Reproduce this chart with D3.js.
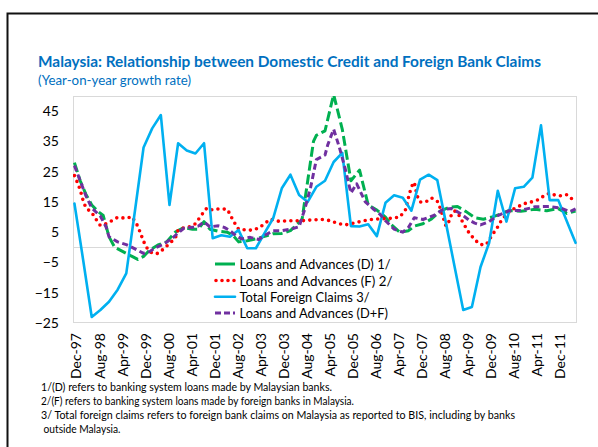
<!DOCTYPE html>
<html><head><meta charset="utf-8">
<script src="https://cdn.jsdelivr.net/npm/d3@7"></script>
<style>
body{margin:0;background:#fff}
svg{display:block}
text{font-family:Lato,"Open Sans",sans-serif}
</style>
</head><body>
<svg id="chart" width="598" height="447"></svg>
<script>
// ---------- data ----------
const monthNames = ["Jan","Feb","Mar","Apr","May","Jun","Jul","Aug","Sep","Oct","Nov","Dec"];
const firstCategory = "Dec-97";
const lastCategory = "Jun-12";
const tickLabels = ["Dec-97","Aug-98","Apr-99","Dec-99","Aug-00","Apr-01","Dec-01","Aug-02","Apr-03","Dec-03","Aug-04","Apr-05","Dec-05","Aug-06","Apr-07","Dec-07","Aug-08","Apr-09","Dec-09","Aug-10","Apr-11","Dec-11"];
const yTicks = [-25,-15,-5,5,15,25,35,45];
const yDomain = [-25,50];

const seriesNames = ["Loans and Advances (D)  1/","Loans and Advances (F)  2/","Total Foreign Claims  3/","Loans and Advances (D+F)"];

// Loans and Advances (D)
const loansDDates = ["Dec-97","Feb-98","Apr-98","Jun-98","Aug-98","Oct-98","Dec-98","Feb-99","May-99","Aug-99","Oct-99","Dec-99","Feb-00","May-00","Aug-00","Nov-00","Feb-01","May-01","Jul-01","Sep-01","Nov-01","Feb-02","May-02","Jul-02","Sep-02","Dec-02","Mar-03","Jul-03","Sep-03","Dec-03","Mar-04","Jun-04","Jul-04","Sep-04","Nov-04","Dec-04","Mar-05","Jun-05","Sep-05","Dec-05","Mar-06","Jun-06","Sep-06","Dec-06","Feb-07","May-07","Aug-07","Oct-07","Jan-08","Apr-08","Jul-08","Oct-08","Jan-09","Apr-09","Jul-09","Oct-09","Jan-10","Apr-10","Jul-10","Nov-10","Apr-11","Aug-11","Dec-11","Mar-12","Jun-12"];
const loansDValues = [28,22,17.5,14,12,10.5,3.5,0,-1.5,-3,-4,-3,-1,0.8,1.8,5,6.5,6,6,8.5,6,5.3,5,4,1.8,2.2,2.8,3.9,4.5,4.6,5.5,8.3,9,22,35,37,38.5,50.5,39,22,25.5,14,12.3,10,7.5,5,5.5,7,7.8,9.4,12,13.2,13.5,11.8,9.8,9.3,10,11,12.2,11.9,12.6,12.1,12.8,11.2,12];

// Loans and Advances (F)
const loansFDates = ["Dec-97","Jan-98","Feb-98","Mar-98","Apr-98","Jun-98","Aug-98","Sep-98","Nov-98","Jan-99","Mar-99","Jun-99","Aug-99","Oct-99","Nov-99","Dec-99","Jan-00","Mar-00","May-00","Jul-00","Sep-00","Nov-00","Dec-00","Feb-01","Apr-01","Jun-01","Aug-01","Oct-01","Dec-01","Feb-02","May-02","Jun-02","Jul-02","Sep-02","Dec-02","Feb-03","Apr-03","Jun-03","Aug-03","Nov-03","Mar-04","Jul-04","Nov-04","Feb-05","May-05","Jul-05","Oct-05","Jan-06","Apr-06","Jul-06","Oct-06","Feb-07","May-07","Jul-07","Aug-07","Sep-07","Oct-07","Nov-07","Dec-07","Feb-08","Apr-08","Jun-08","Jul-08","Aug-08","Sep-08","Oct-08","Nov-08","Dec-08","Jan-09","Mar-09","May-09","Jul-09","Sep-09","Nov-09","Jan-10","Mar-10","Apr-10","Jun-10","Aug-10","Oct-10","Dec-10","Feb-11","May-11","Jul-11","Sep-11","Nov-11","Jan-12","Mar-12","May-12","Jun-12"];
const loansFValues = [23.7,21.5,19,15.5,13,11.5,8.5,7.2,7.8,8.8,9.9,9.6,10.1,7,4.5,2,0,-2,-2,-0.5,1.3,3,5.7,6.5,6.8,7.8,10.5,13,12.3,12.7,12.6,11,9,6,5.7,5.7,6.4,7.8,9.3,8.6,8.8,8.8,9.1,9.2,8.8,8,7.4,8,8.7,9.2,9.4,9.6,10,12.5,16.5,20,21.5,17,15,15,16.3,15.2,13,10,7,8.5,11,12,11.5,8,4.8,2.5,0.9,0.9,4,6.8,8.5,11,12.5,13.4,14.4,14.8,15.7,17,17.9,17.2,17,17.4,15.8,15.5];

// Total Foreign Claims (quarterly)
const claimsDates = ["Dec-97","Mar-98","Jun-98","Sep-98","Dec-98","Mar-99","Jun-99","Sep-99","Dec-99","Mar-00","Jun-00","Sep-00","Dec-00","Mar-01","Jun-01","Sep-01","Dec-01","Mar-02","Jun-02","Sep-02","Dec-02","Mar-03","Jun-03","Sep-03","Dec-03","Mar-04","Jun-04","Sep-04","Dec-04","Mar-05","Jun-05","Sep-05","Dec-05","Mar-06","Jun-06","Sep-06","Dec-06","Mar-07","Jun-07","Sep-07","Dec-07","Mar-08","Jun-08","Sep-08","Dec-08","Mar-09","Jun-09","Sep-09","Dec-09","Mar-10","Jun-10","Sep-10","Dec-10","Mar-11","Jun-11","Sep-11","Dec-11","Mar-12","Jun-12"];
const claimsValues = [14.5,-4,-23,-20.7,-18,-14,-8.6,12,33,39.3,43.7,14,34.4,32,31,34.4,3,4,3.5,5.7,-0.3,-0.3,4.7,9.6,19.5,24,17.3,15,20,22,28.2,31.2,7,6.9,7.6,3.7,14.7,17.2,16.4,12.1,22.4,24,22.2,8,-6.4,-20.7,-19.7,-6.5,1.5,18.7,8.5,19.5,20,23,40.3,15.6,15.6,8.5,1.5];

// Loans and Advances (D+F)
const loansDFDates = ["Dec-97","Feb-98","Apr-98","Jun-98","Sep-98","Nov-98","Dec-98","Mar-99","Jun-99","Aug-99","Oct-99","Dec-99","Feb-00","Apr-00","Jul-00","Oct-00","Dec-00","Feb-01","May-01","Jul-01","Sep-01","Nov-01","Feb-02","Apr-02","Jun-02","Aug-02","Oct-02","Jan-03","Apr-03","Jun-03","Sep-03","Dec-03","Mar-04","Jun-04","Aug-04","Oct-04","Dec-04","Mar-05","Apr-05","Jun-05","Aug-05","Oct-05","Dec-05","Feb-06","May-06","Aug-06","Oct-06","Dec-06","Mar-07","Jun-07","Aug-07","Oct-07","Jan-08","May-08","Aug-08","Nov-08","Feb-09","May-09","Jul-09","Sep-09","Dec-09","Mar-10","Jul-10","Nov-10","Apr-11","Sep-11","Jan-12","Apr-12","Jun-12"];
const loansDFValues = [27,22,17,13,10.3,6.7,3.5,1.8,0.9,0,-1,-2,-1.5,-0.2,1.1,3,4.8,6.3,6.6,7,8.4,6.8,7.1,6.6,5.5,3.9,2.8,3.3,2.6,3.9,5.5,5.5,6,6.8,12.7,19.8,29,30.5,34,39,33,26,18,21,15,12.5,11,8.8,6,5,6.6,9.8,9.2,10.6,12.5,12.8,11.2,9,8,7.4,8.5,10.5,12.1,12.2,13.4,13.5,12.9,11.8,12.7];

const footnotes = [
  "1/(D) refers to banking system loans made by Malaysian banks.",
  "2/(F) refers to banking system loans made by foreign banks in Malaysia.",
  "3/ Total foreign claims refers to foreign bank claims on Malaysia as reported to BIS, including by banks",
  "outside Malaysia."
];

// ---------- helpers ----------
function monthIndex(label){
  const [m, yy] = label.split("-");
  const yr = +yy; const full = yr > 50 ? 1900 + yr : 2000 + yr;
  return (full - 1997) * 12 + monthNames.indexOf(m) - 11;
}
const zip = (dates, vals) => dates.map((d,k)=>({i:monthIndex(d), v:vals[k]}));

// ---------- layout ----------
const svg = d3.select("#chart");
const plot = {left:73, right:577, top:96, bottom:323};
const x = d3.scaleLinear().domain([monthIndex(firstCategory)-0.5, monthIndex(lastCategory)+0.5]).range([plot.left, plot.right]);
const y = d3.scaleLinear().domain(yDomain).range([plot.bottom, plot.top]);

// outer frame
svg.append("path").attr("d","M7.5,450 L7.5,13.5 L600,13.5").attr("fill","none").attr("stroke","#111").attr("stroke-width",2);

// title
svg.append("text").attr("x",38).attr("y",67).text("Malaysia: Relationship between Domestic Credit and Foreign Bank Claims")
  .attr("font-size",15.5).attr("font-weight","bold").attr("fill","#0070C0")
  .attr("textLength",503).attr("lengthAdjust","spacingAndGlyphs");
svg.append("text").attr("x",38).attr("y",85).text("(Year-on-year growth rate)")
  .attr("font-size",12.5).attr("fill","#0070C0")
  .attr("textLength",153).attr("lengthAdjust","spacingAndGlyphs");

// plot border
svg.append("rect").attr("x",plot.left+0.5).attr("y",plot.top+0.5)
  .attr("width",plot.right-plot.left-1).attr("height",plot.bottom-plot.top-1)
  .attr("fill","none").attr("stroke","#d9d9d9").attr("stroke-width",1);
// zero line
svg.append("line").attr("x1",plot.left).attr("x2",plot.right)
  .attr("y1",Math.round(y(0))+0.5).attr("y2",Math.round(y(0))+0.5)
  .attr("stroke","#d9d9d9").attr("stroke-width",1.2);

// y axis
const yAxis = svg.append("g").attr("transform",`translate(${plot.left-14},0)`)
  .call(d3.axisLeft(y).tickValues(yTicks).tickSize(0).tickPadding(0).tickFormat(d3.format("d")));
yAxis.select(".domain").remove();
yAxis.selectAll("text").attr("font-family","Lato").attr("font-size",14).attr("fill","#000");

// x axis
const xAxis = svg.append("g").attr("transform",`translate(0,${plot.bottom})`)
  .call(d3.axisBottom(x).tickValues(tickLabels.map(monthIndex)).tickSize(0)
    .tickFormat(v => tickLabels[tickLabels.map(monthIndex).indexOf(v)]));
xAxis.select(".domain").remove();
xAxis.selectAll("text")
  .attr("font-family","Lato").attr("font-size",14).attr("fill","#000")
  .attr("text-anchor","end")
  .attr("transform","translate(1.5,10) rotate(-90)")
  .attr("x",0).attr("y",0).attr("dy","0.36em");

// clip
svg.append("clipPath").attr("id","clip").append("rect")
  .attr("x",plot.left).attr("y",plot.top).attr("width",plot.right-plot.left).attr("height",plot.bottom-plot.top);

const line = d3.line().x(d=>x(d.i)).y(d=>y(d.v));
const styles = [
  {color:"#00B050", width:3, dash:"10,4", cap:"butt"},
  {color:"#FF0000", width:3.6, dash:"0,6.3", cap:"round"},
  {color:"#00B0F0", width:2.6, dash:null, cap:"round"},
  {color:"#7030A0", width:3, dash:"6,3.5", cap:"butt"}
];
const series = [zip(loansDDates,loansDValues), zip(loansFDates,loansFValues), zip(claimsDates,claimsValues), zip(loansDFDates,loansDFValues)];

const g = svg.append("g").attr("clip-path","url(#clip)");
series.forEach((s,k)=>{
  const st = styles[k];
  g.append("path").datum(s).attr("d",line)
    .attr("fill","none").attr("stroke",st.color).attr("stroke-width",st.width)
    .attr("stroke-dasharray",st.dash).attr("stroke-linecap",st.cap).attr("stroke-linejoin","round");
});

// legend
const legendY = [264, 280.5, 296.8, 313];
const legendW = [151, 153, 130, 148.5];
seriesNames.forEach((name,k)=>{
  const st = styles[k];
  svg.append("line").attr("x1",215).attr("x2",235).attr("y1",legendY[k]).attr("y2",legendY[k])
    .attr("stroke",st.color).attr("stroke-width",st.width)
    .attr("stroke-dasharray",k===1?"0,6":(k===3?"6,3":null)).attr("stroke-linecap",st.cap)
    .attr("transform",k===1?"translate(1,0)":null);
  svg.append("text").attr("x",239.5).attr("y",legendY[k]).attr("dy","0.36em")
    .attr("font-size",14).attr("fill","#000").text(name)
    .attr("textLength",legendW[k]).attr("lengthAdjust","spacingAndGlyphs");
});

// footnotes
const fnY = [390.5, 404.5, 418.5, 432.5];
const fnX = [41, 41, 41, 43.5];
const fnW = [291, 313, 474, 77];
footnotes.forEach((t,k)=>{
  svg.append("text").attr("x",fnX[k]).attr("y",fnY[k]).text(t)
    .attr("font-size",11).attr("fill","#000")
    .attr("textLength",fnW[k]).attr("lengthAdjust","spacingAndGlyphs");
});
</script>
</body></html>
